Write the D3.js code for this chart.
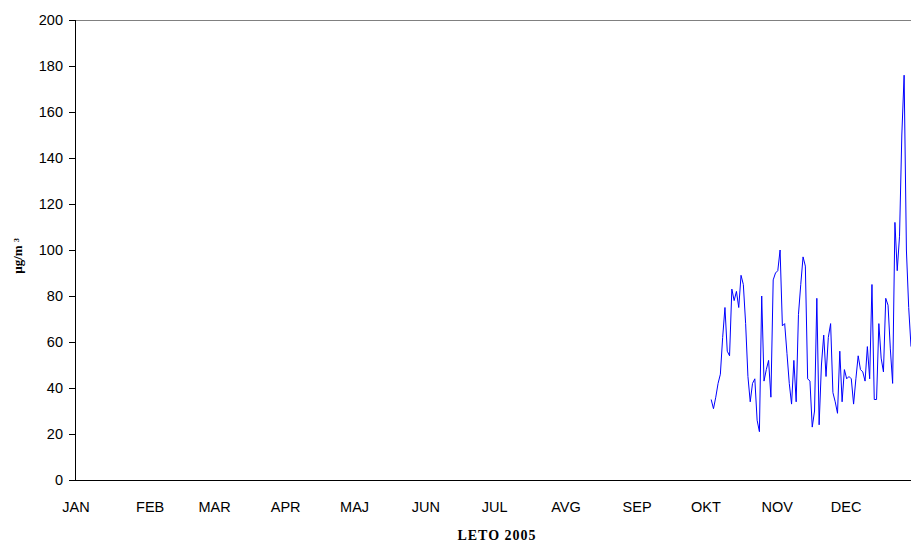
<!DOCTYPE html>
<html>
<head>
<meta charset="utf-8">
<script src="https://cdn.jsdelivr.net/npm/d3@7"></script>
<style>
  html, body { margin: 0; padding: 0; background: #fff; }
  svg { display: block; }
</style>
</head>
<body>
<svg id="chart" width="911" height="544"></svg>
<script>
// ---- data ----
const months = ["JAN","FEB","MAR","APR","MAJ","JUN","JUL","AVG","SEP","OKT","NOV","DEC"];
const monthStartDay = [0,31,59,90,120,151,181,212,243,273,304,334];
const yTicks = [0,20,40,60,80,100,120,140,160,180,200];
const firstDay = 277; // day index of first measurement
const values = [
  35,31,36,42,46,62,75,56,54,83,78,82,75,89,85,68,45,34,42,44,26,21,
  80,43,48,52,36,87,90,91,100,67,68,55,42,33,52,34,72,85,97,93,44,43,
  23,30,79,24,50,63,45,62,68,38,34,29,56,34,48,44,45,44,33,44,54,48,
  47,43,58,44,85,35,35,68,53,47,79,76,57,42,112,91,106,150,176,100,75,58
];
const yTitle = "µg/m ³";
const xTitle = "LETO 2005";

// ---- layout ----
const svg = d3.select("#chart");
const m = { left: 75, right: 0, top: 20, bottom: 64 };
const W = 911, H = 544;
const x = d3.scaleLinear().domain([0, 364]).range([m.left, W - m.right]);
const y = d3.scaleLinear().domain([0, 200]).range([H - m.bottom, m.top]);
const sans = "Liberation Sans, Arial, sans-serif";
const serif = "Liberation Serif, Times New Roman, serif";

// top border
svg.append("line")
  .attr("x1", m.left).attr("x2", W).attr("y1", y(200)).attr("y2", y(200))
  .attr("stroke", "#808080").attr("stroke-width", 1).attr("shape-rendering", "crispEdges");

// y axis
const yAxis = d3.axisLeft(y).tickValues(yTicks).tickSize(6).tickPadding(6);
const gy = svg.append("g").attr("transform", `translate(${m.left},0)`).call(yAxis);
gy.select(".domain").attr("stroke", "#000").attr("shape-rendering", "crispEdges");
gy.selectAll(".tick line").attr("stroke", "#000").attr("shape-rendering", "crispEdges");
gy.selectAll("text").attr("font-family", sans)
  .attr("font-size", 14.5).attr("fill", "#000");

// x axis line
svg.append("line")
  .attr("x1", m.left).attr("x2", W).attr("y1", y(0)).attr("y2", y(0))
  .attr("stroke", "#000").attr("stroke-width", 1).attr("shape-rendering", "crispEdges");

// month labels
svg.append("g").selectAll("text").data(months).join("text")
  .attr("x", (d, i) => x(monthStartDay[i]) + (i === 0 ? 1 : 4))
  .attr("y", 512)
  .attr("text-anchor", "middle")
  .attr("font-family", sans)
  .attr("font-size", 14.5).attr("fill", "#000")
  .text(d => d);

// data line
const line = d3.line()
  .x((d, i) => x(firstDay + i))
  .y(d => y(d));
svg.append("path").datum(values)
  .attr("d", line)
  .attr("fill", "none")
  .attr("stroke", "#0000FF")
  .attr("stroke-width", 1);

// titles
svg.append("text")
  .attr("transform", `translate(22,256) rotate(-90)`)
  .attr("text-anchor", "middle")
  .attr("font-family", serif)
  .attr("font-weight", "bold").attr("font-size", 13).attr("fill", "#000")
  .text(yTitle);

svg.append("text")
  .attr("x", 497).attr("y", 540)
  .attr("text-anchor", "middle")
  .attr("font-family", serif)
  .attr("font-weight", "bold").attr("font-size", 14).attr("letter-spacing", 1).attr("fill", "#000")
  .text(xTitle);
</script>
</body>
</html>
